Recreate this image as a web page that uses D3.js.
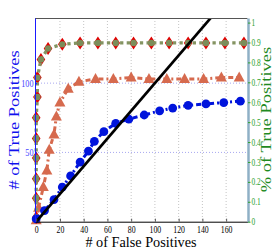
<!DOCTYPE html>
<html>
<head>
<meta charset="utf-8">
<script src="https://cdn.jsdelivr.net/npm/d3@7"></script>
<style>
  body { margin: 0; background: #fff; }
  svg { display: block; }
  text { font-family: "Liberation Serif", "Times New Roman", serif; }
</style>
</head>
<body>
<svg id="chart" width="274" height="249"></svg>
<script>
// tick values
var fpTicks = [0, 20, 40, 60, 80, 100, 120, 140, 160];
var tpTicks = [50, 100];
var pctTicks = [0, 0.1, 0.2, 0.3, 0.4, 0.5, 0.6, 0.7, 0.8, 0.9, 1];

// blue circles
var circFP = [0, 7, 15, 22, 29, 37, 44, 49, 57, 67, 78, 91, 104, 115, 128, 143, 158, 172];
var circTP = [2, 8, 16, 25, 33, 43, 51, 58, 65, 71, 74, 77, 80, 82, 84, 85, 86, 87];

// salmon triangles
var triFP = [0, 2, 6, 9, 11, 15, 17, 20, 27, 36, 50, 65, 80, 95, 110, 125, 141, 156, 171];
var triTP = [1, 10, 25, 37, 52, 63, 76, 86, 96, 101, 103, 103, 104, 103, 103, 103, 103, 104, 104];

// red diamonds / olive dots
var diaFP = [0, 0, 0, 0, 0, 0, 1, 1, 4, 10, 22, 37, 52, 67, 82, 97, 112, 128, 143, 159, 175];
var diaTP = [3, 17, 31, 46, 60, 75, 90, 104, 117, 125, 128, 129, 129, 129, 129, 129, 129, 129, 129, 129, 129];

// diagonal reference (y = x)
var diagFP = [0, 178];
var diagTP = [0, 178];

var margin = {top: 18, right: 26.5, bottom: 27.3, left: 35},
  width = 274 - margin.left - margin.right,
  height = 249 - margin.top - margin.bottom;

var SX = 0.78; // the picture is squeezed sideways

var x = d3.scaleLinear().domain([-1, 178]).range([0, width]);
var y = d3.scaleLinear().domain([0, 147]).range([height, 0]);
var y2 = d3.scaleLinear().domain([0, 1.023]).range([height, 0]);

var svg = d3.select("#chart")
  .append("g")
  .attr("transform", "translate(" + margin.left + "," + margin.top + ")");

svg.append("defs").append("clipPath").attr("id", "plotclip")
  .append("rect").attr("width", width).attr("height", height);

// grid
svg.append("g").selectAll("line")
  .data(fpTicks.filter(function(d) { return d > 0; }))
  .enter().append("line")
  .attr("x1", function(d) { return x(d); })
  .attr("x2", function(d) { return x(d); })
  .attr("y1", 0).attr("y2", height)
  .style("stroke", "#c4c4c4").style("stroke-width", 1)
  .style("stroke-dasharray", "1,2");

svg.append("g").selectAll("line")
  .data(tpTicks)
  .enter().append("line")
  .attr("x1", 0).attr("x2", width)
  .attr("y1", function(d) { return y(d); })
  .attr("y2", function(d) { return y(d); })
  .style("stroke", "#a8a8f0").style("stroke-width", 1)
  .style("stroke-dasharray", "1,2");

function pts(xs, ys) {
  return xs.map(function(v, i) { return [v, ys[i]]; });
}

var line = d3.line()
  .x(function(d) { return x(d[0]); })
  .y(function(d) { return y(d[1]); });

// salmon triangles
var tri = pts(triFP, triTP);
svg.append("path").datum(tri)
  .attr("d", line)
  .style("fill", "none").style("stroke", "#d66a4e").style("stroke-width", 3)
  .style("stroke-dasharray", "5,3,2,3");
svg.append("g").selectAll("path")
  .data(tri).enter().append("path")
  .attr("d", "M0,-6L5.5,4L-5.5,4Z")
  .attr("transform", function(d) { return "translate(" + x(d[0]) + "," + y(d[1]) + ")"; })
  .style("fill", "#d66a4e");

// red diamonds + olive dots
var dia = pts(diaFP, diaTP);
svg.append("g").selectAll("path")
  .data(dia).enter().append("path")
  .attr("d", "M0,-6.5L4.3,0L0,6.5L-4.3,0Z")
  .attr("transform", function(d) { return "translate(" + x(d[0]) + "," + y(d[1]) + ")"; })
  .style("fill", "#e00000");
svg.append("path").datum(dia)
  .attr("d", line)
  .style("fill", "none").style("stroke", "#849462").style("stroke-width", 3.3)
  .style("stroke-dasharray", "3.3,3.3");
svg.append("g").selectAll("circle")
  .data(dia).enter().append("circle")
  .attr("cx", function(d) { return x(d[0]); })
  .attr("cy", function(d) { return y(d[1]); })
  .attr("r", 3.2)
  .style("fill", "#7b8d5a");

// blue circles
var circ = pts(circFP, circTP);
svg.append("path").datum(circ)
  .attr("d", line)
  .style("fill", "none").style("stroke", "#0014dc").style("stroke-width", 3)
  .style("stroke-dasharray", "5,3,2,3");
svg.append("g").selectAll("circle")
  .data(circ).enter().append("circle")
  .attr("cx", function(d) { return x(d[0]); })
  .attr("cy", function(d) { return y(d[1]); })
  .attr("r", 4.4)
  .style("fill", "#0014dc");

// y = x
svg.append("path").datum(pts(diagFP, diagTP))
  .attr("clip-path", "url(#plotclip)")
  .attr("d", line)
  .style("fill", "none").style("stroke", "#000").style("stroke-width", 2.7);

// top frame
svg.append("line")
  .attr("x1", 0).attr("x2", width).attr("y1", 0.5).attr("y2", 0.5)
  .style("stroke", "#555").style("stroke-width", 1);

function squeeze(sel) {
  sel.selectAll("text").each(function() {
    var w = this.getComputedTextLength();
    d3.select(this).attr("textLength", w * SX).attr("lengthAdjust", "spacingAndGlyphs");
  });
}

// bottom axis
var xAxis = svg.append("g")
  .attr("transform", "translate(0," + height + ")")
  .call(d3.axisBottom(x).tickValues(fpTicks).tickSizeInner(-3).tickSizeOuter(0).tickPadding(4));
xAxis.select(".domain").style("stroke", "#000");
xAxis.selectAll(".tick line").style("stroke", "#555");
xAxis.selectAll("text").style("font-size", "10px").style("fill", "#000");
squeeze(xAxis);

// left axis
var yAxis = svg.append("g")
  .call(d3.axisLeft(y).tickValues(tpTicks).tickSizeInner(-2).tickSizeOuter(0).tickPadding(1.5));
yAxis.select(".domain").style("stroke", "#1a1aff");
yAxis.selectAll(".tick line").style("stroke", "#1a1aff");
yAxis.selectAll("text").style("font-size", "10.5px").style("fill", "#4545ff");
squeeze(yAxis);

// right axis
var y2Axis = svg.append("g")
  .attr("transform", "translate(" + (width + 0.5) + ",0)")
  .call(d3.axisRight(y2).tickValues(pctTicks).tickFormat(d3.format("")).tickSizeInner(2.5).tickSizeOuter(0).tickPadding(1));
y2Axis.select(".domain").style("stroke", "#8fb0c6").style("stroke-width", 2.5);
y2Axis.selectAll(".tick line").style("stroke", "#2ca02c");
y2Axis.selectAll("text").style("font-size", "9.5px").style("fill", "#2ca02c");
squeeze(y2Axis);

// titles
var root = d3.select("#chart");
root.append("text")
  .attr("transform", "translate(141,247) scale(0.92,1)")
  .attr("text-anchor", "middle")
  .style("font-size", "15.5px").style("fill", "#000")
  .text("# of False Positives");

root.append("text")
  .attr("transform", "translate(18.5,120) scale(" + SX + ",1) rotate(-90)")
  .attr("text-anchor", "middle")
  .style("font-size", "18.5px").style("fill", "#1010ee")
  .text("# of True Positives");

root.append("text")
  .attr("transform", "translate(271,119.5) scale(" + SX + ",1) rotate(-90)")
  .attr("text-anchor", "middle")
  .style("font-size", "18.5px").style("fill", "#1f8a1f")
  .text("% of True Positives");
</script>
</body>
</html>
